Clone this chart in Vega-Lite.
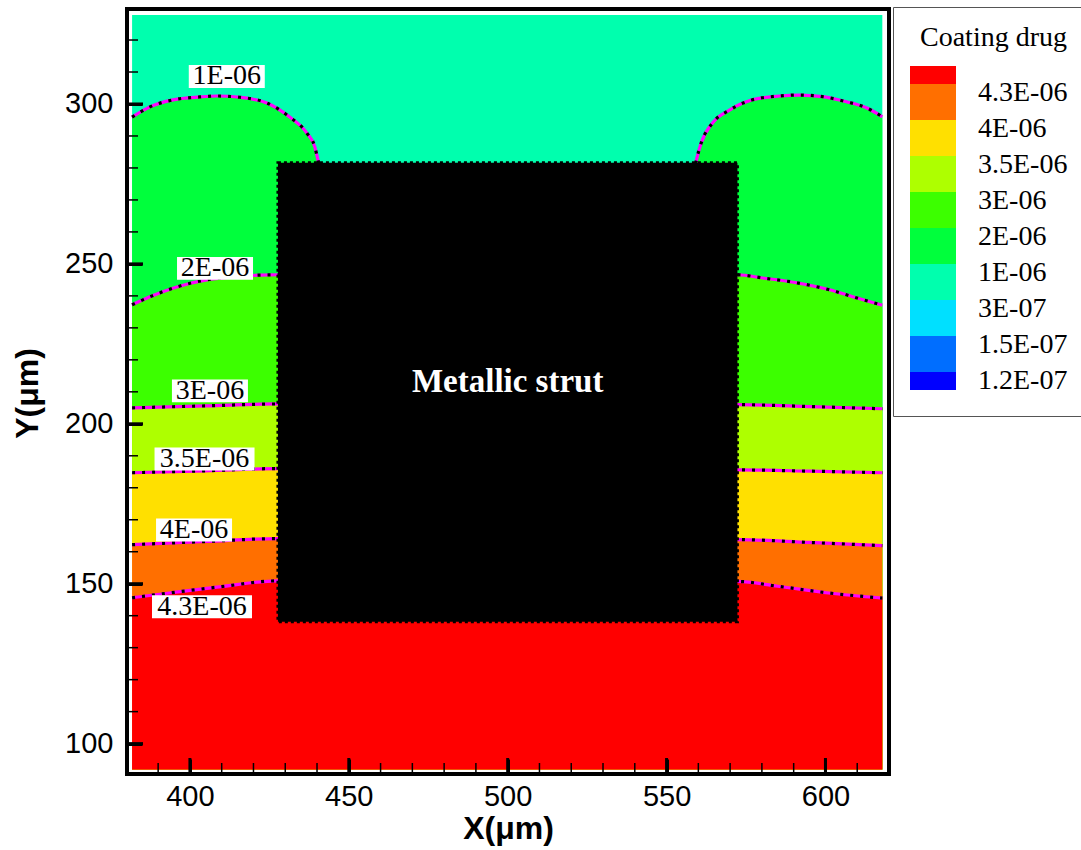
{
  "$schema": "https://vega.github.io/schema/vega-lite/v6.json",
  "width": 762,
  "height": 765,
  "autosize": {"type": "none"},
  "padding": {"left": 127, "top": 9, "right": 192, "bottom": 76},
  "background": "white",
  "config": {"view": {"stroke": "black", "strokeWidth": 4}, "font": "Liberation Sans"},
  "datasets": {
    "curves": [
      {"level": "1E-06", "x": 381.8, "y": 295.9},
      {"level": "1E-06", "x": 387.4, "y": 299.1},
      {"level": "1E-06", "x": 394.7, "y": 301.3},
      {"level": "1E-06", "x": 403.1, "y": 302.2},
      {"level": "1E-06", "x": 408.5, "y": 302.5},
      {"level": "1E-06", "x": 415.7, "y": 302.1},
      {"level": "1E-06", "x": 424.2, "y": 300.3},
      {"level": "1E-06", "x": 431.4, "y": 295.9},
      {"level": "1E-06", "x": 436.8, "y": 290.9},
      {"level": "1E-06", "x": 439.3, "y": 286.6},
      {"level": "1E-06", "x": 440.3, "y": 282.5},
      {"level": "1E-06", "x": 443.0, "y": 270.0},
      {"level": "1E-06", "x": 557.0, "y": 270.0},
      {"level": "1E-06", "x": 559.4, "y": 282.5},
      {"level": "1E-06", "x": 561.0, "y": 288.1},
      {"level": "1E-06", "x": 564.5, "y": 294.1},
      {"level": "1E-06", "x": 569.8, "y": 298.1},
      {"level": "1E-06", "x": 577.0, "y": 301.3},
      {"level": "1E-06", "x": 585.5, "y": 302.5},
      {"level": "1E-06", "x": 591.8, "y": 302.8},
      {"level": "1E-06", "x": 599.1, "y": 302.3},
      {"level": "1E-06", "x": 606.6, "y": 300.7},
      {"level": "1E-06", "x": 612.9, "y": 298.8},
      {"level": "1E-06", "x": 617.9, "y": 296.0},
      {"level": "2E-06", "x": 381.8, "y": 237.2},
      {"level": "2E-06", "x": 387.4, "y": 239.7},
      {"level": "2E-06", "x": 395.9, "y": 242.8},
      {"level": "2E-06", "x": 405.3, "y": 245.0},
      {"level": "2E-06", "x": 413.5, "y": 245.9},
      {"level": "2E-06", "x": 422.0, "y": 246.5},
      {"level": "2E-06", "x": 427.7, "y": 246.6},
      {"level": "2E-06", "x": 572.3, "y": 246.6},
      {"level": "2E-06", "x": 580.2, "y": 245.6},
      {"level": "2E-06", "x": 590.9, "y": 244.1},
      {"level": "2E-06", "x": 601.3, "y": 241.9},
      {"level": "2E-06", "x": 609.7, "y": 239.4},
      {"level": "2E-06", "x": 617.9, "y": 237.1},
      {"level": "3E-06", "x": 381.8, "y": 205.0},
      {"level": "3E-06", "x": 405.0, "y": 205.6},
      {"level": "3E-06", "x": 427.7, "y": 206.2},
      {"level": "3E-06", "x": 572.3, "y": 206.0},
      {"level": "3E-06", "x": 595.0, "y": 205.4},
      {"level": "3E-06", "x": 617.9, "y": 204.7},
      {"level": "3.5E-06", "x": 381.8, "y": 184.7},
      {"level": "3.5E-06", "x": 405.0, "y": 185.3},
      {"level": "3.5E-06", "x": 427.7, "y": 186.0},
      {"level": "3.5E-06", "x": 572.3, "y": 185.6},
      {"level": "3.5E-06", "x": 595.0, "y": 185.2},
      {"level": "3.5E-06", "x": 617.9, "y": 184.7},
      {"level": "4E-06", "x": 381.8, "y": 162.2},
      {"level": "4E-06", "x": 405.0, "y": 163.2},
      {"level": "4E-06", "x": 427.7, "y": 164.1},
      {"level": "4E-06", "x": 572.3, "y": 163.8},
      {"level": "4E-06", "x": 595.0, "y": 162.9},
      {"level": "4E-06", "x": 617.9, "y": 161.9},
      {"level": "4.3E-06", "x": 381.8, "y": 145.6},
      {"level": "4.3E-06", "x": 393.5, "y": 147.1},
      {"level": "4.3E-06", "x": 409.2, "y": 149.0},
      {"level": "4.3E-06", "x": 427.7, "y": 150.9},
      {"level": "4.3E-06", "x": 572.3, "y": 150.7},
      {"level": "4.3E-06", "x": 585.0, "y": 149.2},
      {"level": "4.3E-06", "x": 601.0, "y": 147.1},
      {"level": "4.3E-06", "x": 617.9, "y": 145.5}
    ],
    "labels": [
      {"label": "1E-06", "x": 411.6, "y": 308.6},
      {"label": "2E-06", "x": 407.9, "y": 248.6},
      {"label": "3E-06", "x": 406.3, "y": 210.3},
      {"label": "3.5E-06", "x": 404.6, "y": 189.0},
      {"label": "4E-06", "x": 401.3, "y": 166.8},
      {"label": "4.3E-06", "x": 403.8, "y": 142.8}
    ],
    "strut": [
      {"name": "Metallic strut", "x0": 427.7, "x1": 572.3, "y0": 138.1, "y1": 281.6, "cx": 500, "cy": 213}
    ],
    "xminor": [
      {"v": 390}, {"v": 410}, {"v": 420}, {"v": 430}, {"v": 440}, {"v": 460}, {"v": 470}, {"v": 480}, {"v": 490},
      {"v": 510}, {"v": 520}, {"v": 530}, {"v": 540}, {"v": 560}, {"v": 570}, {"v": 580}, {"v": 590}, {"v": 610}
    ],
    "yminor": [
      {"v": 110}, {"v": 120}, {"v": 130}, {"v": 140}, {"v": 160}, {"v": 170}, {"v": 180}, {"v": 190},
      {"v": 210}, {"v": 220}, {"v": 230}, {"v": 240}, {"v": 260}, {"v": 270}, {"v": 280}, {"v": 290},
      {"v": 310}, {"v": 320}
    ],
    "xmajor": [{"v": 400}, {"v": 450}, {"v": 500}, {"v": 550}, {"v": 600}],
    "ymajor": [{"v": 100}, {"v": 150}, {"v": 200}, {"v": 250}, {"v": 300}]
  },
  "layer": [
    {
      "data": {"values": [{"name": "domain"}]},
      "mark": {"type": "rect"},
      "encoding": {
        "x": {
          "datum": 381.8, "type": "quantitative",
          "scale": {"domain": [380.2, 620], "nice": false, "zero": false},
          "axis": {
            "title": "X(μm)",
            "values": [400, 450, 500, 550, 600],
            "domain": false, "grid": false, "zindex": 1,
            "tickColor": "black", "tickSize": -15, "tickWidth": 3,
            "labelFont": "Liberation Sans", "labelFontSize": 29, "labelColor": "black",
            "labelPadding": 23, "labelFlush": false, "labelOverlap": false,
            "titleFont": "Liberation Sans", "titleFontSize": 32, "titleFontWeight": "bold", "titleColor": "black",
            "titleBaseline": "alphabetic", "titleY": 64
          }
        },
        "x2": {"datum": 617.9},
        "y": {
          "datum": 91.9, "type": "quantitative",
          "scale": {"domain": [90.5, 329.7], "nice": false, "zero": false},
          "axis": {
            "title": "Y(μm)",
            "values": [100, 150, 200, 250, 300],
            "domain": false, "grid": false, "zindex": 1,
            "tickColor": "black", "tickSize": -15, "tickWidth": 3,
            "labelFont": "Liberation Sans", "labelFontSize": 29, "labelColor": "black",
            "labelPadding": 29, "labelFlush": false, "labelOverlap": false,
            "titleFont": "Liberation Sans", "titleFontSize": 32, "titleFontWeight": "bold", "titleColor": "black",
            "titleBaseline": "alphabetic", "titleX": -90, "titleY": 384, "titleAngle": -90
          }
        },
        "y2": {"datum": 327.8},
        "color": {
          "datum": 3.5, "type": "quantitative",
          "scale": {
            "type": "threshold",
            "domain": [1, 1.5, 2, 2.5, 3, 3.5, 4, 4.5, 5, 5.5, 6, 6.5, 7, 7.5, 8, 8.5, 9],
            "range": ["#0000FF", "#006EFF", "#006EFF", "#00E0FF", "#00E0FF", "#00FFAE", "#00FFAE", "#00FF3C", "#00FF3C", "#3CFF00", "#3CFF00", "#AEFF00", "#AEFF00", "#FFE000", "#FFE000", "#FF6F00", "#FF6F00", "#FF0000"]
          },
          "legend": {
            "type": "gradient", "direction": "vertical",
            "orient": "none", "legendX": 766, "legendY": -2,
            "title": "Coating drug",
            "titleFont": "Liberation Serif", "titleFontSize": 28, "titleFontWeight": "normal", "titleColor": "black",
            "titleAnchor": "end", "titlePadding": 14,
            "gradientLength": 324, "gradientThickness": 46, "gradientStrokeWidth": 0,
            "labelFont": "Liberation Serif", "labelFontSize": 28, "labelColor": "black",
            "labelOffset": 22, "labelOverlap": false,
            "labelExpr": "datum.value % 1 !== 0 ? '' : ['1.2E-07','1.5E-07','3E-07','1E-06','2E-06','3E-06','3.5E-06','4E-06','4.3E-06'][datum.value - 1]",
            "padding": 17, "strokeColor": "#555555", "fillColor": "white",
            "encode": {"labels": {"update": {"dy": {"value": 9}}}}
          }
        }
      }
    },
    {
      "data": {"name": "curves"},
      "transform": [{"filter": "datum.level === '1E-06'"}],
      "mark": {"type": "area", "interpolate": "monotone", "color": "#00FF3C"},
      "encoding": {
        "x": {"field": "x", "type": "quantitative"},
        "y": {"field": "y", "type": "quantitative"},
        "y2": {"datum": 91.9}
      }
    },
    {
      "data": {"name": "curves"},
      "transform": [{"filter": "datum.level === '2E-06'"}],
      "mark": {"type": "area", "interpolate": "monotone", "color": "#3CFF00"},
      "encoding": {
        "x": {"field": "x", "type": "quantitative"},
        "y": {"field": "y", "type": "quantitative"},
        "y2": {"datum": 91.9}
      }
    },
    {
      "data": {"name": "curves"},
      "transform": [{"filter": "datum.level === '3E-06'"}],
      "mark": {"type": "area", "interpolate": "monotone", "color": "#AEFF00"},
      "encoding": {
        "x": {"field": "x", "type": "quantitative"},
        "y": {"field": "y", "type": "quantitative"},
        "y2": {"datum": 91.9}
      }
    },
    {
      "data": {"name": "curves"},
      "transform": [{"filter": "datum.level === '3.5E-06'"}],
      "mark": {"type": "area", "interpolate": "monotone", "color": "#FFE000"},
      "encoding": {
        "x": {"field": "x", "type": "quantitative"},
        "y": {"field": "y", "type": "quantitative"},
        "y2": {"datum": 91.9}
      }
    },
    {
      "data": {"name": "curves"},
      "transform": [{"filter": "datum.level === '4E-06'"}],
      "mark": {"type": "area", "interpolate": "monotone", "color": "#FF6F00"},
      "encoding": {
        "x": {"field": "x", "type": "quantitative"},
        "y": {"field": "y", "type": "quantitative"},
        "y2": {"datum": 91.9}
      }
    },
    {
      "data": {"name": "curves"},
      "transform": [{"filter": "datum.level === '4.3E-06'"}],
      "mark": {"type": "area", "interpolate": "monotone", "color": "#FF0000"},
      "encoding": {
        "x": {"field": "x", "type": "quantitative"},
        "y": {"field": "y", "type": "quantitative"},
        "y2": {"datum": 91.9}
      }
    },
    {
      "data": {"name": "curves"},
      "mark": {"type": "line", "interpolate": "monotone", "color": "#FF00FF", "strokeWidth": 3.2},
      "encoding": {
        "x": {"field": "x", "type": "quantitative"},
        "y": {"field": "y", "type": "quantitative"},
        "detail": {"field": "level"}
      }
    },
    {
      "data": {"name": "curves"},
      "mark": {"type": "line", "interpolate": "monotone", "color": "black", "strokeWidth": 3.2, "strokeDash": [3, 7], "strokeCap": "butt"},
      "encoding": {
        "x": {"field": "x", "type": "quantitative"},
        "y": {"field": "y", "type": "quantitative"},
        "detail": {"field": "level"}
      }
    },
    {
      "data": {"name": "strut"},
      "mark": {"type": "rect", "fill": "black", "stroke": "black", "strokeWidth": 3, "strokeDash": [3, 3]},
      "encoding": {
        "x": {"field": "x0", "type": "quantitative"},
        "x2": {"field": "x1"},
        "y": {"field": "y0", "type": "quantitative"},
        "y2": {"field": "y1"}
      }
    },
    {
      "data": {"name": "strut"},
      "mark": {"type": "text", "font": "Liberation Serif", "fontSize": 33, "fontWeight": "bold", "color": "white", "align": "center", "baseline": "middle"},
      "encoding": {
        "x": {"field": "cx", "type": "quantitative"},
        "y": {"field": "cy", "type": "quantitative"},
        "text": {"field": "name"}
      }
    },
    {
      "data": {"name": "labels"},
      "mark": {"type": "point", "filled": true, "fill": "white", "opacity": 1, "strokeWidth": 0},
      "encoding": {
        "x": {"field": "x", "type": "quantitative"},
        "y": {"field": "y", "type": "quantitative"},
        "shape": {"condition": {"test": "length(datum.label) > 5", "value": "M-1,-0.23H1V0.23H-1Z"}, "value": "M-1,-0.3H1V0.3H-1Z"},
        "size": {"condition": {"test": "length(datum.label) > 5", "value": 10000}, "value": 5776}
      }
    },
    {
      "data": {"name": "labels"},
      "mark": {"type": "text", "font": "Liberation Serif", "fontSize": 28, "color": "black", "align": "center", "baseline": "middle"},
      "encoding": {
        "x": {"field": "x", "type": "quantitative"},
        "y": {"field": "y", "type": "quantitative"},
        "text": {"field": "label"}
      }
    },
    {
      "data": {"name": "xminor"},
      "mark": {"type": "tick", "orient": "vertical", "size": 22, "thickness": 1.5, "color": "black", "opacity": 1, "clip": true},
      "encoding": {
        "x": {"field": "v", "type": "quantitative"},
        "y": {"datum": 90.5, "type": "quantitative"}
      }
    },
    {
      "data": {"name": "yminor"},
      "mark": {"type": "tick", "orient": "horizontal", "size": 22, "thickness": 1.5, "color": "black", "opacity": 1, "clip": true},
      "encoding": {
        "y": {"field": "v", "type": "quantitative"},
        "x": {"datum": 380.2, "type": "quantitative"}
      }
    },
    {
      "data": {"name": "xmajor"},
      "mark": {"type": "tick", "orient": "vertical", "size": 32, "thickness": 3, "color": "black", "opacity": 1, "clip": true},
      "encoding": {
        "x": {"field": "v", "type": "quantitative"},
        "y": {"datum": 90.5, "type": "quantitative"}
      }
    },
    {
      "data": {"name": "ymajor"},
      "mark": {"type": "tick", "orient": "horizontal", "size": 32, "thickness": 3, "color": "black", "opacity": 1, "clip": true},
      "encoding": {
        "y": {"field": "v", "type": "quantitative"},
        "x": {"datum": 380.2, "type": "quantitative"}
      }
    }
  ]
}
